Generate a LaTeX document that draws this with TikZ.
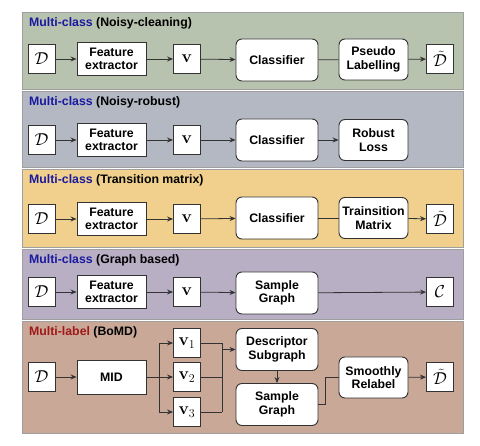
\documentclass[tikz,border=0pt]{standalone}
\usepackage[no-math]{fontspec}
\setmainfont{Liberation Sans}
\usetikzlibrary{arrows.meta}
\definecolor{pA}{HTML}{B7C3AE}
\definecolor{pB}{HTML}{B3B8C2}
\definecolor{pC}{HTML}{F0D08C}
\definecolor{pD}{HTML}{B8AFC4}
\definecolor{pE}{HTML}{C9A898}
\definecolor{tblue}{HTML}{1A1AA0}
\definecolor{tred}{HTML}{A01818}
\definecolor{ink}{HTML}{333333}
\tikzset{
 box/.style={draw=ink, fill=white, line width=0.9pt, inner sep=0pt, align=center, font=\fontsize{12.3}{13.5}\selectfont\bfseries},
 sq/.style={box, minimum width=27pt, minimum height=29pt, font=\fontsize{17}{19}\selectfont},
 fe/.style={box, minimum width=69pt, minimum height=33pt},
 cl/.style={box, rounded corners=6pt, minimum width=82pt, minimum height=42pt},
 pl/.style={box, rounded corners=6pt, minimum width=69pt, minimum height=41pt},
 panel/.style={draw=gray!75, line width=0.8pt},
 ttl/.style={anchor=west, inner sep=0pt, font=\fontsize{12.3}{13.5}\selectfont\bfseries},
 arr/.style={-{Stealth[length=6pt,width=5pt]}, line width=0.8pt, draw=ink},
 ln/.style={line width=0.8pt, draw=ink},
}
\begin{document}
\begin{tikzpicture}[x=1pt,y=-1pt]
\useasboundingbox (0,0) rectangle (480,446);
% panels
\draw[panel, fill=pA] (22,12) rectangle (463,89);
\draw[panel, fill=pB] (22,91) rectangle (463,167);
\draw[panel, fill=pC] (22,169) rectangle (463,247);
\draw[panel, fill=pD] (22,249) rectangle (463,319);
\draw[panel, fill=pE] (22,321) rectangle (463,433);
% titles
\node[ttl] (t1) at (29,23) {\textcolor{tblue}{Multi-class} (Noisy-cleaning)};
\node[ttl] (t2) at (29,102) {\textcolor{tblue}{Multi-class} (Noisy-robust)};
\node[ttl] (t3) at (29,180) {\textcolor{tblue}{Multi-class} (Transition matrix)};
\node[ttl] (t4) at (29,260) {\textcolor{tblue}{Multi-class} (Graph based)};
\node[ttl] (t5) at (29,332) {\textcolor{tred}{Multi-label} (BoMD)};
% row 1
\node[sq] (d1) at (41.5,59) {$\mathcal{D}$};
\node[fe] (f1) at (111.5,59) {Feature\\extractor};
\node[sq] (v1r) at (187,59) {$\mathbf{v}$};
\node[cl] (c1) at (277,60) {Classifier};
\node[pl] (p1) at (373.5,59.5) {Pseudo\\Labelling};
\node[sq] (o1) at (440,59) {$\tilde{\mathcal{D}}$};
\draw[arr] (d1) -- (f1);
\draw[arr] (f1) -- (v1r);
\draw[arr] (v1r) -- (c1);
\draw[ln] (c1) -- (p1);
\draw[arr] (p1) -- (o1);
% row 2
\node[sq] (d2) at (41.5,140) {$\mathcal{D}$};
\node[fe] (f2) at (111.5,140) {Feature\\extractor};
\node[sq] (v2r) at (187,140) {$\mathbf{v}$};
\node[cl] (c2) at (277,140) {Classifier};
\node[pl] (p2) at (373.5,140) {Robust\\Loss};
\draw[arr] (d2) -- (f2);
\draw[arr] (f2) -- (v2r);
\draw[arr] (v2r) -- (c2);
\draw[arr] (c2) -- (p2);
% row 3
\node[sq] (d3) at (41.5,219) {$\mathcal{D}$};
\node[fe] (f3) at (111.5,219) {Feature\\extractor};
\node[sq] (v3r) at (187,219) {$\mathbf{v}$};
\node[cl] (c3) at (277,218) {Classifier};
\node[pl] (p3) at (373.5,218) {Trainsition\\Matrix};
\node[sq] (o3) at (440,219) {$\tilde{\mathcal{D}}$};
\draw[arr] (d3) -- (f3);
\draw[arr] (f3) -- (v3r);
\draw[arr] (v3r) -- (c3);
\draw[ln] (c3) -- (p3);
\draw[arr] (p3) -- (o3);
% row 4
\node[sq] (d4) at (41.5,292) {$\mathcal{D}$};
\node[fe] (f4) at (111.5,292) {Feature\\extractor};
\node[sq] (v4r) at (187,292) {$\mathbf{v}$};
\node[cl] (g4) at (277,293) {Sample\\Graph};
\node[sq] (o4) at (440,292) {$\mathcal{C}$};
\draw[arr] (d4) -- (f4);
\draw[arr] (f4) -- (v4r);
\draw[arr] (v4r) -- (g4);
\draw[arr] (g4) -- (o4);
% row 5
\node[sq] (d5) at (41.5,377) {$\mathcal{D}$};
\node[fe, minimum height=34pt] (mid) at (111.5,377) {MID};
\node[sq] (va) at (187,343) {$\mathbf{v}_1$};
\node[sq] (vb) at (187,377) {$\mathbf{v}_2$};
\node[sq] (vc) at (187,412) {$\mathbf{v}_3$};
\node[cl] (ds) at (277,349.5) {Descriptor\\Subgraph};
\node[cl] (sg) at (277,404.5) {Sample\\Graph};
\node[pl] (sr) at (373.5,377.5) {Smoothly\\Relabel};
\node[sq] (o5) at (440,377) {$\tilde{\mathcal{D}}$};
\coordinate (ba) at (159,377);
\coordinate (bt) at (222,343);
\coordinate (bb) at (222,412);
\coordinate (kk) at (325,404.5);
\draw[arr] (d5) -- (mid);
\draw[ln] (mid) -- (ba);
\draw[arr] (ba) |- (va);
\draw[arr] (ba) -- (vb);
\draw[arr] (ba) |- (vc);
\draw[ln] (va) -- (bt) -- (bb);
\draw[ln] (vc) -- (bb);
\draw[ln] (vb) -- (vb -| bt);
\draw[arr] (bt |- ds) -- (ds);
\draw[arr] (ds) -- (sg);
\draw[ln] (sg) -- (kk) |- (sr);
\draw[arr] (sr) -- (o5);
\end{tikzpicture}
\end{document}
